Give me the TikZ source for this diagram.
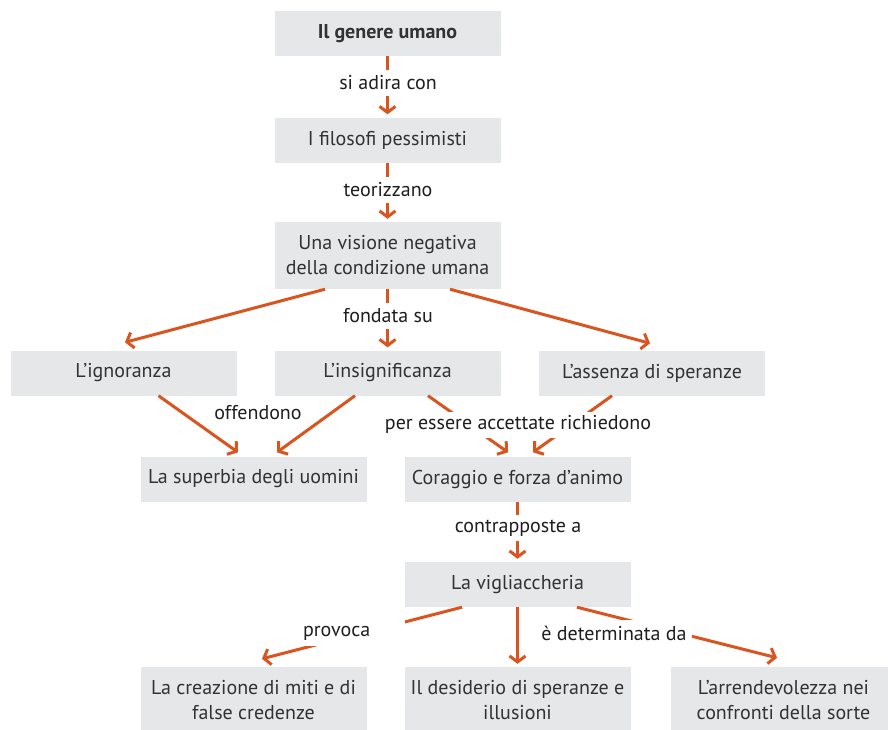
\documentclass[tikz,border=0pt]{standalone}
\usepackage{fontspec}
\setmainfont{PT Sans}
\usetikzlibrary{arrows.meta,calc}
\definecolor{arr}{RGB}{217,84,30}
\definecolor{boxg}{RGB}{230,231,232}
\definecolor{txt}{RGB}{50,50,50}
\definecolor{ltxt}{RGB}{30,30,30}
\begin{document}
\begin{tikzpicture}[x=1pt,y=-1pt,
  box/.style={fill=boxg, minimum width=226pt, minimum height=45pt, inner sep=0pt,
    align=center, text=txt, font=\fontsize{20}{25}\selectfont},
  tall/.style={box, minimum height=67pt},
  lbl/.style={fill=white, text=ltxt, inner xsep=5pt, inner ysep=0pt, minimum height=26pt,
    font=\fontsize{20}{25}\selectfont},
  conn/.style={draw=arr, line width=3pt, line cap=butt,
    -{Straight Barb[length=6pt,width=16pt,line cap=butt]}},
]
\useasboundingbox (0,0) rectangle (888,729);
\clip (0,0) rectangle (888,729);

% nodes
\node[box, font=\fontsize{20}{25}\selectfont\bfseries] (n1) at (387.5,33.5) {Il genere umano};
\node[box] (n2) at (387.5,140) {I filosofi pessimisti};
\node[tall] (n3) at (387.5,255.5) {Una visione negativa\\della condizione umana};
\node[box] (n4) at (123.5,373) {L’ignoranza};
\node[box] (n5) at (387.5,373) {L’insignificanza};
\node[box] (n6) at (652,373) {L’assenza di speranze};
\node[box] (n7) at (253.5,479) {La superbia degli uomini};
\node[box] (n8) at (517.5,479) {Coraggio e forza d’animo};
\node[box] (n9) at (517.5,584.5) {La vigliaccheria};
\node[tall] (n10) at (253.5,700.5) {La creazione di miti e di\\false credenze};
\node[tall] (n11) at (517.5,700.5) {Il desiderio di speranze e\\illusioni};
\node[tall] (n12) at (783.5,700.5) {L’arrendevolezza nei\\confronti della sorte};

% connectors
\draw[conn, shorten >=3pt] (n1.south) -- (n2.north);
\draw[conn, shorten >=3pt] (n2.south) -- (n3.north);
\draw[conn, shorten >=3pt] (n3.south) -- (n5.north);
\draw[conn] ($(n3.south)+(-62.5,0)$) -- ($(n4.north)+(1.5,-8)$);
\draw[conn] ($(n3.south)+(62.5,0)$) -- ($(n6.north)+(-2,-7)$);
\draw[conn] ($(n4.south)+(35,0)$) -- ($(n7.north)+(-15.5,-4)$);
\draw[conn] ($(n5.south)+(-32.5,0)$) -- ($(n7.north)+(23.5,-4)$);
\draw[conn] ($(n5.south)+(40.5,0)$) -- ($(n8.north)+(-9.5,-4)$);
\draw[conn] ($(n6.south)+(-40,0)$) -- ($(n8.north)+(15.5,-4)$);
\draw[conn, shorten >=3pt] (n8.south) -- (n9.north);
\draw[conn] ($(n9.south)+(-55.5,0)$) -- ($(n10.north)+(8.5,-8)$);
\draw[conn, shorten >=3pt] (n9.south) -- (n11.north);
\draw[conn] ($(n9.south)+(59.5,0)$) -- ($(n12.north)+(-6.5,-9)$);

% labels
\node[lbl] (l1) at (388,83) {si adira con};
\node[lbl] (l2) at (388,190) {teorizzano};
\node[lbl] (l3) at (388,316) {fondata su};
\node[lbl, fill=none] (l4) at (258,413) {offendono};
\node[lbl] (l5) at (518,424.5) {per essere accettate richiedono};
\node[lbl] (l6) at (518,528) {contrapposte a};
\node[lbl, text width=97pt, align=left] (l7) at (351.5,633) {provoca};
\node[lbl] (l8) at (614,633) {è determinata da};
\end{tikzpicture}
\end{document}
